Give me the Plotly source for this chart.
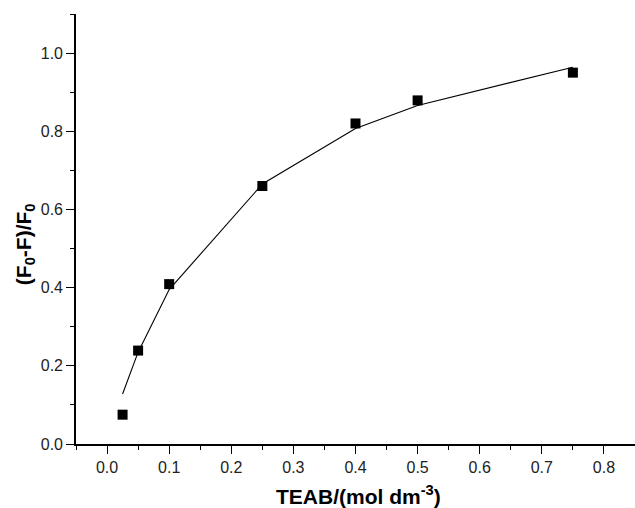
import plotly.graph_objects as go

# TEAB concentration (mol dm^-3)
teab_conc = [0.025, 0.05, 0.1, 0.25, 0.4, 0.5, 0.75]
# measured quenching ratio (F0-F)/F0
quench_obs = [0.075, 0.239, 0.409, 0.660, 0.820, 0.879, 0.950]
# fitted curve evaluated at the same concentrations
quench_fit = [0.128, 0.235, 0.395, 0.665, 0.807, 0.866, 0.964]

x_ticks = [0.0, 0.1, 0.2, 0.3, 0.4, 0.5, 0.6, 0.7, 0.8]
y_ticks = [0.0, 0.2, 0.4, 0.6, 0.8, 1.0]

FONT = "Liberation Sans, Arial, sans-serif"

fig = go.Figure()
fig.add_trace(go.Scatter(
    x=teab_conc, y=quench_fit, mode="lines",
    line=dict(color="black", width=1.1), hoverinfo="skip",
))
fig.add_trace(go.Scatter(
    x=teab_conc, y=quench_obs, mode="markers",
    marker=dict(symbol="square", size=10, color="black", line=dict(width=0)),
))

axis_common = dict(
    showgrid=False, zeroline=False, showline=True, linecolor="black",
    linewidth=1.6, ticks="outside", ticklen=8, tickwidth=1.4, tickcolor="black",
    tickfont=dict(family=FONT, size=16, color="#222"), mirror=False,
)

fig.update_xaxes(
    range=[-0.05, 0.85], tickvals=x_ticks, ticktext=[f"{v:.1f}" for v in x_ticks],
    minor=dict(ticks="outside", ticklen=4, tickwidth=1.2, tickcolor="black", dtick=0.05, tick0=0.0),
    **axis_common,
)
fig.update_yaxes(
    range=[0, 1.1], tickvals=y_ticks, ticktext=[f"{v:.1f}" for v in y_ticks],
    minor=dict(ticks="outside", ticklen=4, tickwidth=1.2, tickcolor="black", dtick=0.1, tick0=0.0),
    **axis_common,
)

fig.add_annotation(
    text="<b>TEAB/(mol dm<sup>-3</sup>)</b>", xref="paper", yref="paper",
    x=0.506, y=-0.118, xanchor="center", yanchor="middle", showarrow=False,
    font=dict(family=FONT, size=21, color="black"),
)
fig.add_annotation(
    text="<b>(F<sub>0</sub>-F)/F<sub>0</sub></b>", xref="paper", yref="paper",
    x=-0.091, y=0.465, xanchor="center", yanchor="middle", showarrow=False,
    textangle=-90, font=dict(family=FONT, size=21, color="black"),
)

fig.update_layout(
    width=635, height=508, showlegend=False,
    margin=dict(l=76, r=0, t=14, b=64),
    paper_bgcolor="white", plot_bgcolor="white",
)

fig.write_html("out.html")
